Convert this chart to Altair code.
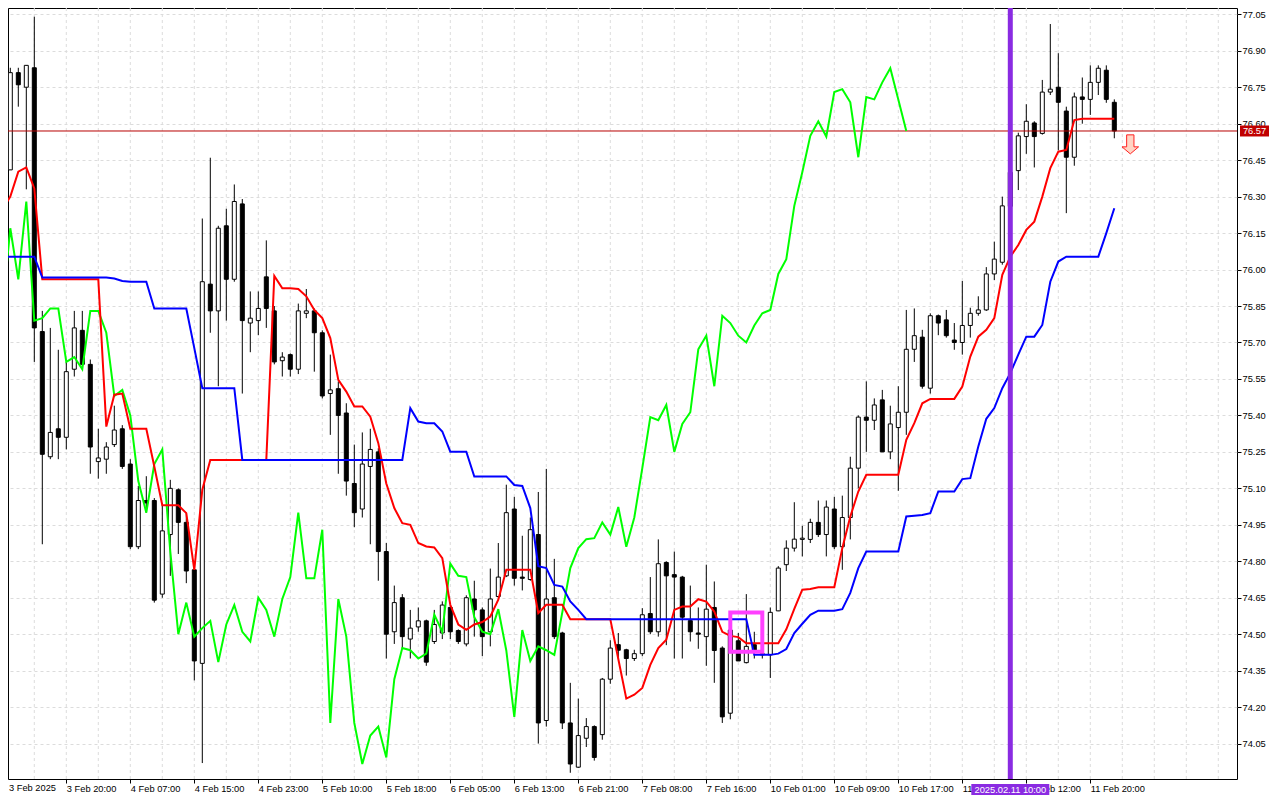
import altair as alt
import pandas as pd

# ---------------- data ----------------
idx = list(range(140))

opens = [76.43, 76.41, 76.81, 76.75, 76.83, 75.745, 75.23, 75.345, 75.31, 75.59,
         75.75, 75.61, 75.21, 75.22, 75.28, 75.345, 75.20, 74.86, 75.05, 75.05,
         74.665, 74.91, 75.094, 74.96, 74.765, 74.38, 75.94, 75.83, 76.18, 75.96,
         76.27, 75.78, 75.79, 75.97, 75.83, 75.625, 75.65, 75.59, 75.82, 75.83,
         75.74, 75.49, 75.51, 75.41, 75.12, 75.015, 75.19, 75.25, 74.84, 74.51,
         74.65, 74.48, 74.53, 74.555, 74.47, 74.505, 74.61, 74.515, 74.46, 74.645,
         74.60, 74.51, 74.655, 74.74, 75.015, 74.735, 74.725, 74.91, 74.145, 74.65,
         74.505, 74.135, 73.953, 74.072, 74.12, 74.087, 74.315, 74.457, 74.436, 74.40,
         74.42, 74.585, 74.51, 74.795, 74.745, 74.735, 74.556, 74.505, 74.49, 74.61,
         74.443, 74.175, 74.473, 74.383, 74.457, 74.42, 74.415, 74.596, 74.786, 74.854,
         74.89, 74.89, 74.96, 74.91, 75.015, 74.86, 74.98, 75.183, 75.393, 75.38,
         75.464, 75.25, 75.35, 75.413, 75.672, 75.722, 75.512, 75.81, 75.793, 75.71,
         75.70, 75.77, 75.82, 75.834, 75.982, 76.03, 76.26, 76.407, 76.547, 76.603,
         76.56, 76.73, 76.75, 76.652, 76.462, 76.71, 76.70, 76.77, 76.82, 76.688]

highs = [76.44, 76.83, 76.83, 76.84, 77.04, 75.83, 75.76, 75.67, 75.62, 75.83,
         75.83, 75.63, 75.345, 75.29, 75.44, 75.36, 75.22, 75.11, 75.15, 75.06,
         75.04, 75.135, 75.10, 75.00, 74.79, 76.21, 76.46, 76.18, 76.25, 76.35,
         76.29, 75.91, 75.91, 76.12, 75.85, 75.66, 75.655, 75.86, 75.92, 75.84,
         75.75, 75.65, 75.54, 75.45, 75.28, 75.33, 75.345, 75.265, 74.875, 74.70,
         74.665, 74.60, 74.61, 74.56, 74.60, 74.635, 74.62, 74.52, 74.66, 74.72,
         74.61, 74.77, 74.875, 75.115, 75.065, 74.905, 74.98, 75.085, 75.18, 74.81,
         74.51, 74.30, 74.235, 74.155, 74.125, 74.32, 74.475, 74.505, 74.44, 74.436,
         74.607, 74.735, 74.89, 74.80, 74.84, 74.74, 74.70, 74.61, 74.786, 74.717,
         74.45, 74.52, 74.505, 74.665, 74.51, 74.45, 74.61, 74.78, 74.886, 75.043,
         74.946, 74.975, 75.05, 75.05, 75.065, 75.07, 75.23, 75.40, 75.54, 75.47,
         75.505, 75.44, 75.52, 75.834, 75.84, 75.752, 75.82, 75.815, 75.834, 75.78,
         75.953, 75.843, 75.89, 76.01, 76.115, 76.30, 76.42, 76.563, 76.68, 76.61,
         76.78, 77.01, 76.89, 76.67, 76.728, 76.79, 76.84, 76.84, 76.84, 76.70]

lows = [76.42, 76.41, 76.67, 76.33, 75.62, 74.87, 75.22, 75.22, 75.26, 75.56,
        75.59, 75.16, 75.14, 75.16, 75.27, 75.18, 74.85, 74.85, 75.00, 74.63,
        74.65, 74.74, 74.83, 74.71, 74.31, 73.97, 75.74, 75.52, 75.79, 75.95,
        75.49, 75.66, 75.73, 75.76, 75.61, 75.56, 75.56, 75.57, 75.80, 75.58,
        75.47, 75.32, 75.16, 75.07, 74.94, 74.98, 74.87, 74.72, 74.40, 74.46,
        74.44, 74.40, 74.51, 74.37, 74.46, 74.48, 74.48, 74.46, 74.45, 74.49,
        74.41, 74.45, 74.65, 74.735, 74.70, 74.68, 74.72, 74.05, 74.12, 74.48,
        74.11, 73.93, 73.95, 74.036, 73.98, 74.066, 74.296, 74.40, 74.33, 74.39,
        74.41, 74.50, 74.49, 74.455, 74.40, 74.40, 74.47, 74.44, 74.37, 74.30,
        74.135, 74.15, 74.39, 74.38, 74.40, 74.40, 74.32, 74.595, 74.76, 74.84,
        74.82, 74.875, 74.90, 74.82, 74.85, 74.765, 74.89, 75.10, 75.25, 75.34,
        75.25, 75.22, 75.09, 75.32, 75.62, 75.51, 75.49, 75.73, 75.72, 75.67,
        75.65, 75.72, 75.81, 75.83, 75.957, 76.02, 76.22, 76.327, 76.476, 76.42,
        76.555, 76.718, 76.49, 76.232, 76.427, 76.60, 76.636, 76.718, 76.686, 76.54]

closes = [76.43, 76.81, 76.76, 76.84, 75.76, 75.24, 75.33, 75.31, 75.58, 75.76,
          75.61, 75.27, 75.225, 75.27, 75.34, 75.19, 74.86, 75.05, 75.04, 74.64,
          74.925, 75.10, 74.96, 74.76, 74.39, 75.95, 75.83, 76.17, 75.96, 76.28,
          75.79, 75.80, 75.84, 75.84, 75.62, 75.64, 75.59, 75.83, 75.83, 75.74,
          75.48, 75.505, 75.40, 75.13, 75.00, 75.20, 75.26, 74.84, 74.50, 74.63,
          74.49, 74.525, 74.555, 74.385, 74.54, 74.62, 74.51, 74.47, 74.65, 74.60,
          74.49, 74.645, 74.735, 75.00, 74.73, 74.73, 74.93, 74.135, 74.645, 74.49,
          74.135, 73.966, 74.083, 74.12, 73.993, 74.315, 74.443, 74.434, 74.40, 74.42,
          74.58, 74.51, 74.79, 74.74, 74.735, 74.57, 74.51, 74.50, 74.603, 74.433,
          74.16, 74.517, 74.39, 74.45, 74.434, 74.415, 74.59, 74.772, 74.854, 74.891,
          74.895, 74.96, 74.91, 75.023, 74.86, 74.98, 75.183, 75.393, 75.38, 75.443,
          75.25, 75.365, 75.413, 75.672, 75.728, 75.52, 75.81, 75.78, 75.728, 75.70,
          75.77, 75.82, 75.834, 75.982, 76.043, 76.262, 76.40, 76.55, 76.61, 76.547,
          76.73, 76.742, 76.688, 76.462, 76.71, 76.70, 76.77, 76.828, 76.70, 76.57]

tenkan = [76.246, 76.30, 76.403, 76.42, 76.334, 75.96, 75.96, 75.96, 75.96, 75.96,
          75.96, 75.96, 75.96, 75.354, 75.485, 75.49, 75.345, 75.345, 75.345, 75.19,
          75.03, 75.03, 75.03, 74.998, 74.765, 75.094, 75.217, 75.217, 75.217, 75.217,
          75.217, 75.217, 75.217, 75.217, 75.974, 75.923, 75.923, 75.92, 75.89, 75.834,
          75.80, 75.718, 75.546, 75.498, 75.437, 75.437, 75.395, 75.286, 75.12, 75.019,
          74.957, 74.95, 74.875, 74.861, 74.857, 74.813, 74.621, 74.54, 74.518, 74.54,
          74.55, 74.573, 74.642, 74.765, 74.765, 74.765, 74.765, 74.587, 74.621, 74.621,
          74.621, 74.562, 74.562, 74.562, 74.562, 74.562, 74.562, 74.398, 74.235, 74.251,
          74.279, 74.374, 74.443, 74.477, 74.60, 74.614, 74.614, 74.644, 74.634, 74.593,
          74.51, 74.493, 74.488, 74.463, 74.463, 74.463, 74.463, 74.463, 74.52, 74.604,
          74.683, 74.686, 74.693, 74.693, 74.693, 74.854, 74.984, 75.087, 75.156, 75.156,
          75.156, 75.156, 75.156, 75.30, 75.368, 75.45, 75.468, 75.468, 75.468, 75.468,
          75.519, 75.642, 75.724, 75.752, 75.80, 75.978, 76.053, 76.101, 76.163, 76.197,
          76.30, 76.417, 76.485, 76.492, 76.615, 76.62, 76.62, 76.62, 76.62, 76.62]

kijun = [76.053, 76.053, 76.053, 76.053, 76.053, 75.967, 75.967, 75.967, 75.967, 75.967,
         75.967, 75.967, 75.967, 75.967, 75.963, 75.953, 75.95, 75.95, 75.95, 75.84,
         75.84, 75.84, 75.84, 75.84, 75.677, 75.512, 75.512, 75.512, 75.512, 75.512,
         75.217, 75.217, 75.217, 75.217, 75.217, 75.217, 75.217, 75.217, 75.217, 75.217,
         75.217, 75.217, 75.217, 75.217, 75.217, 75.217, 75.217, 75.217, 75.217, 75.217,
         75.217, 75.43, 75.375, 75.368, 75.368, 75.334, 75.251, 75.251, 75.251, 75.149,
         75.149, 75.149, 75.149, 75.149, 75.114, 75.11, 75.019, 74.78, 74.772, 74.703,
         74.696, 74.635, 74.60, 74.562, 74.562, 74.562, 74.562, 74.562, 74.562, 74.562,
         74.562, 74.562, 74.562, 74.562, 74.562, 74.562, 74.562, 74.562, 74.562, 74.562,
         74.562, 74.562, 74.562, 74.562, 74.415, 74.415, 74.415, 74.42, 74.439, 74.505,
         74.543, 74.58, 74.597, 74.597, 74.597, 74.603, 74.67, 74.772, 74.84, 74.84,
         74.84, 74.84, 74.84, 74.984, 74.987, 74.99, 74.998, 75.087, 75.087, 75.087,
         75.138, 75.142, 75.272, 75.386, 75.43, 75.512, 75.574, 75.65, 75.724, 75.724,
         75.772, 75.95, 76.033, 76.053, 76.053, 76.053, 76.053, 76.053, 76.15, 76.252]

chikou_shift = 26

tick_idx = [8, 16, 24, 32, 40, 48, 56, 64, 72, 80, 88, 96, 104, 112, 120, 128, 136]
tick_labels = ["3 Feb 2025", "3 Feb 20:00", "4 Feb 07:00", "4 Feb 15:00", "4 Feb 23:00",
               "5 Feb 10:00", "5 Feb 18:00", "6 Feb 05:00", "6 Feb 13:00", "6 Feb 21:00",
               "7 Feb 08:00", "7 Feb 16:00", "10 Feb 01:00", "10 Feb 09:00", "10 Feb 17:00",
               "11 Feb 04:00", "11 Feb 12:00", "11 Feb 20:00"]
grid_idx = [4, 8, 12, 16, 20, 24, 28, 32, 36, 40, 44, 48, 52, 56, 60, 64, 68, 72, 76,
            80, 84, 88, 92, 96, 100, 104, 108, 112, 116, 120, 124, 128, 132, 136, 140,
            144, 148, 152]
price_ticks = [74.05, 74.20, 74.35, 74.50, 74.65, 74.80, 74.95, 75.10, 75.25, 75.40,
               75.55, 75.70, 75.85, 76.00, 76.15, 76.30, 76.45, 76.60, 76.75, 76.90, 77.05]

last_price = [76.57]
marker_idx = [126]
marker_label = "2025.02.11 10:00"
box_x = [91]
box_x2 = [95]
box_lo = [74.428]
box_hi = [74.589]
arrow_idx = [141]
arrow_price = [76.515]

# ---------------- layout / style ----------------
W, H = 1229, 771
FONT = "Liberation Sans"
FS = 9.3

xscale = alt.Scale(domain=[0.7125, 154.3375], nice=False, zero=False, padding=0)
yscale = alt.Scale(domain=[73.9044, 77.0759], nice=False, zero=False, padding=0)

label_expr = "[" + ",".join("'" + s + "'" for s in tick_labels) + "][round(datum.value/8)]"

xaxis = alt.Axis(values=tick_idx, labelExpr=label_expr, orient="bottom", title=None,
                 grid=False, domain=False, ticks=True, tickSize=4, tickColor="black",
                 labelAlign="left", labelBaseline="top", labelPadding=1,
                 labelFont=FONT, labelFontSize=FS, labelColor="black",
                 labelFlush=False, labelOverlap=False)
yaxis = alt.Axis(values=price_ticks, format=".2f", orient="right", title=None,
                 grid=True, gridColor="#DCDCDC", gridDash=[3, 3], gridWidth=1,
                 domain=False, tickSize=4, tickColor="black", labelPadding=1,
                 labelFont=FONT, labelFontSize=FS, labelColor="black",
                 labelOverlap=False, labelFlush=False)


def X(f):
    return alt.X(f, type="quantitative", scale=xscale, axis=xaxis)


def Y(f):
    return alt.Y(f, type="quantitative", scale=yscale, axis=yaxis)


df = pd.DataFrame({"i": idx, "o": opens, "h": highs, "l": lows, "c": closes,
                   "tk": tenkan, "kj": kijun})
chik = pd.DataFrame({"i": idx[:len(idx) - chikou_shift], "v": closes[chikou_shift:]})
grid_df = pd.DataFrame({"g": grid_idx})
price_df = pd.DataFrame({"p": last_price})
marker_df = pd.DataFrame({"m": marker_idx})
box_df = pd.DataFrame({"x1": box_x, "x2": box_x2, "y1": box_lo, "y2": box_hi})
arrow_df = pd.DataFrame({"ai": arrow_idx, "ap": arrow_price})

base = alt.Chart(df)

vgrid = alt.Chart(grid_df).mark_rule(color="#DCDCDC", strokeDash=[3, 3], strokeWidth=1).encode(x=X("g"))

wicks = base.mark_rule(color="black", strokeWidth=1, clip=True).encode(
    x=X("i"), y=Y("l"), y2="h")

bodies = base.mark_bar(size=4, stroke="black", strokeWidth=1, clip=True).encode(
    x=X("i"), y=Y("o"), y2="c",
    fill=alt.condition("datum.c >= datum.o", alt.value("white"), alt.value("black")))

price_line = alt.Chart(price_df).mark_rule(color="#B80000", strokeWidth=1).encode(y=Y("p"))

green = alt.Chart(chik).mark_line(color="#00FF00", strokeWidth=2, clip=True).encode(
    x=X("i"), y=Y("v"))
red = base.mark_line(color="#FF0000", strokeWidth=2, clip=True).encode(x=X("i"), y=Y("tk"))
blue = base.mark_line(color="#0000FF", strokeWidth=2, clip=True).encode(x=X("i"), y=Y("kj"))

mbox = alt.Chart(box_df).mark_rect(fillOpacity=0, stroke="#FF40FF", strokeWidth=4).encode(
    x=X("x1"), x2="x2", y=Y("y1"), y2="y2")

vline = alt.Chart(marker_df).mark_rule(color="#8A2BE2", strokeWidth=5, clip=True).encode(x=X("m"))

rect_shape_wide = "M -1 -0.141 L 1 -0.141 L 1 0.141 L -1 0.141 Z"
mlabel_bg = alt.Chart(marker_df).mark_point(
    shape=rect_shape_wide, size=6084, filled=True, fill="#8A2BE2", opacity=1, strokeWidth=0
).encode(x=X("m"), y=alt.value(H + 10.5))
mlabel_tx = alt.Chart(marker_df).mark_text(
    text=marker_label, color="white", font=FONT, fontSize=FS, align="center", baseline="middle"
).encode(x=X("m"), y=alt.value(H + 11))

rect_shape_price = "M -1 -0.379 L 1 -0.379 L 1 0.379 L -1 0.379 Z"
plabel_bg = alt.Chart(price_df).mark_point(
    shape=rect_shape_price, size=841, filled=True, fill="#C00000", opacity=1, strokeWidth=0
).encode(x=alt.value(W + 17.5), y=Y("p"))
plabel_tx = alt.Chart(price_df).mark_text(
    color="white", font=FONT, fontSize=FS, align="center", baseline="middle", dy=0.5
).encode(x=alt.value(W + 17.5), y=Y("p"), text=alt.Text("p:Q", format=".2f"))

arrow_shape = "M -0.44 -1.145 L 0.44 -1.145 L 0.44 0.3 L 1 0.3 L 0 1.145 L -1 0.3 L -0.44 0.3 Z"
arrow = alt.Chart(arrow_df).mark_point(
    shape=arrow_shape, size=276, filled=True, fill="#FFD4C4", stroke="#FF2020",
    strokeWidth=1, opacity=1
).encode(x=X("ai"), y=Y("ap"))

first_label = alt.Chart(price_df).mark_text(
    text=tick_labels[0], color="black", font=FONT, fontSize=FS, align="left", baseline="top"
).encode(x=alt.value(1), y=alt.value(H + 5))

chart = alt.layer(
    vgrid, wicks, bodies, price_line, green, red, blue, mbox, vline,
    mlabel_bg, mlabel_tx, plabel_bg, plabel_tx, arrow, first_label
).properties(
    width=W, height=H, background="white",
    padding={"left": 0, "top": 0, "right": 32, "bottom": 18},
    autosize=alt.AutoSizeParams(type="none")
).configure_view(stroke="black", strokeWidth=1)

chart.save("out.html", embed_options={"renderer": "svg", "actions": False})
